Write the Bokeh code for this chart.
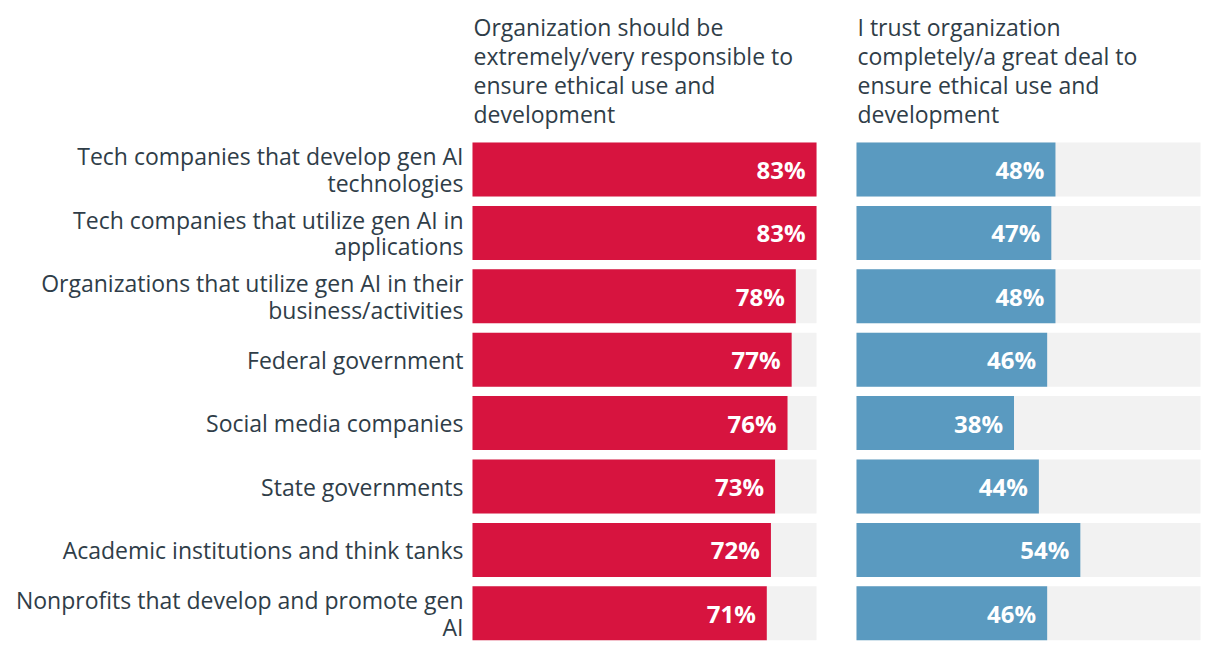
from bokeh.plotting import figure
from bokeh.models import Range1d
from bokeh.embed import file_html
from bokeh.resources import INLINE
from bokeh.core.properties import value

# ---- data ----
categories = [
    "Tech companies that develop gen AI\ntechnologies",
    "Tech companies that utilize gen AI in\napplications",
    "Organizations that utilize gen AI in their\nbusiness/activities",
    "Federal government",
    "Social media companies",
    "State governments",
    "Academic institutions and think tanks",
    "Nonprofits that develop and promote gen\nAI",
]
responsible = [83, 83, 78, 77, 76, 73, 72, 71]
trust = [48, 47, 48, 46, 38, 44, 54, 46]
headers = [
    "Organization should be\nextremely/very responsible to\nensure ethical use and\ndevelopment",
    "I trust organization\ncompletely/a great deal to\nensure ethical use and\ndevelopment",
]

# ---- layout ----
W, H = 1212, 646
PX = 4.145          # pixels per percentage point
X0 = 472            # left panel zero (figure px)
GAP = 384 / PX      # offset of right panel in percent units
ROW = 63.4          # row pitch px
Y0 = 169            # first row centre (figure px)
BAR_H = 54 / ROW

FONT = "Open Sans"
FS = "23px"
TXT = "#2f3d48"
RED = "#d7143f"
BLUE = "#5a9ac0"
GRAY = "#f2f2f2"

p = figure(width=W, height=H, output_backend="svg", toolbar_location=None,
           x_range=Range1d(-X0 / PX, (W - X0) / PX),
           y_range=Range1d((H - Y0) / ROW, -Y0 / ROW),
           min_border=0, outline_line_color=None)
p.axis.visible = False
p.grid.visible = False
p.background_fill_color = "white"
p.border_fill_color = "white"

ys = list(range(len(categories)))
maxv = max(responsible + trust)

# background bars
p.hbar(y=ys, left=0, right=maxv, height=BAR_H, fill_color=GRAY, line_color=None)
p.hbar(y=ys, left=GAP, right=GAP + maxv, height=BAR_H, fill_color=GRAY, line_color=None)

# value bars
p.hbar(y=ys, left=0, right=responsible, height=BAR_H, fill_color=RED, line_color=None)
p.hbar(y=ys, left=GAP, right=[GAP + v for v in trust], height=BAR_H,
       fill_color=BLUE, line_color=None)

# value labels
p.text(x=responsible, y=ys, text=[f"{v}%" for v in responsible], x_offset=-11,
       text_align="right", text_baseline="middle", text_color="white",
       text_font=value(FONT), text_font_style="bold", text_font_size="24px")
p.text(x=[GAP + v for v in trust], y=ys, text=[f"{v}%" for v in trust], x_offset=-11,
       text_align="right", text_baseline="middle", text_color="white",
       text_font=value(FONT), text_font_style="bold", text_font_size="24px")

# category labels
p.text(x=[0] * len(ys), y=ys, text=categories, x_offset=-9,
       text_align="right", text_baseline="middle", text_color=TXT,
       text_font=value(FONT), text_font_size=FS, text_line_height=0.83)

# headers
hy = (10 - Y0) / ROW
p.text(x=[0, GAP], y=[hy, hy], text=headers, x_offset=1,
       text_align="left", text_baseline="top", text_color=TXT,
       text_font=value(FONT), text_font_size=FS, text_line_height=0.91)

open("out.html", "w").write(file_html(p, INLINE))
